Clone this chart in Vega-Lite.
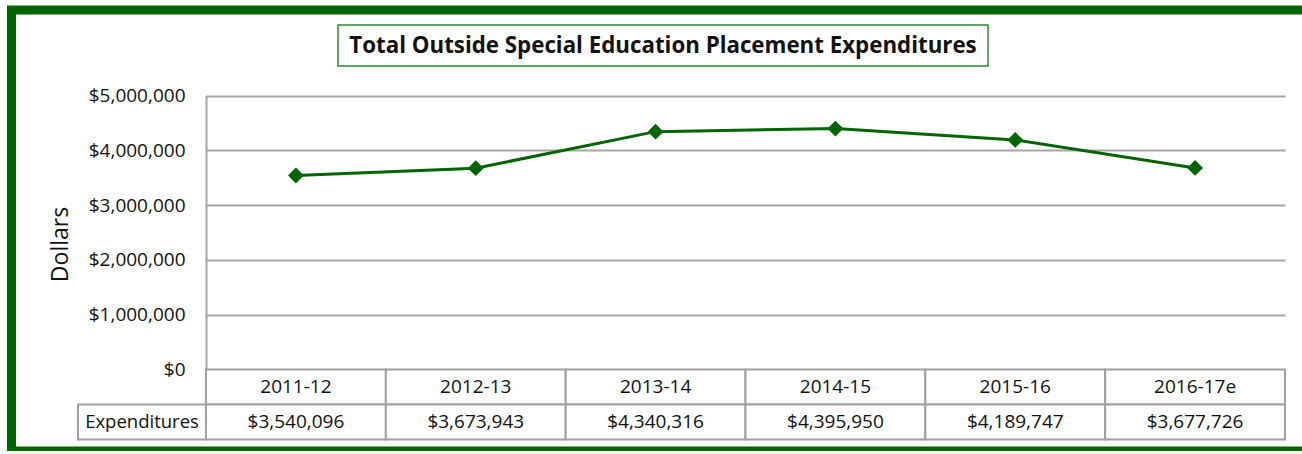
{
  "$schema": "https://vega.github.io/schema/vega-lite/v6.json",
  "width": 1300.5,
  "height": 441,
  "autosize": {"type": "none"},
  "padding": {"left": 11.5, "top": 10, "right": 0, "bottom": 0},
  "background": "white",
  "config": {
    "view": {"stroke": "#006400", "strokeWidth": 9, "fill": "white"},
    "font": "Open Sans",
    "text": {"font": "Open Sans", "fontSize": 19, "color": "#111111"}
  },
  "datasets": {
    "exp": [
      {"year": "2011-12", "amount": 3540096},
      {"year": "2012-13", "amount": 3673943},
      {"year": "2013-14", "amount": 4340316},
      {"year": "2014-15", "amount": 4395950},
      {"year": "2015-16", "amount": 4189747},
      {"year": "2016-17e", "amount": 3677726}
    ]
  },
  "layer": [
    {
      "data": {"name": "exp"},
      "encoding": {
        "x": {"field": "year", "type": "nominal", "sort": null, "axis": null,
              "scale": {"type": "band", "range": [194.5, 1273.5], "paddingInner": 0, "paddingOuter": 0}},
        "y": {"field": "amount", "type": "quantitative",
              "scale": {"domain": [0, 5000000], "range": [359.5, 85.5], "nice": false, "zero": true},
              "axis": {"orient": "left", "offset": -194.5, "values": [0, 1000000, 2000000, 3000000, 4000000, 5000000],
                       "format": "$,.0f", "ticks": false, "labelPadding": 21, "labelFont": "Open Sans", "labelFontSize": 19,
                       "labelColor": "#111111", "domain": true, "domainColor": "#a6a6a6", "domainWidth": 2,
                       "grid": true, "gridColor": "#a6a6a6", "gridWidth": 2,
                       "title": "Dollars", "titleFont": "Open Sans", "titleFontSize": 23, "titleFontWeight": "normal",
                       "titleColor": "#111111", "titleX": -146, "titleY": 234, "titleAngle": 270,
                       "titleAlign": "center", "titleBaseline": "middle"}}
      },
      "layer": [
        {"mark": {"type": "line", "color": "#006400", "strokeWidth": 3}},
        {"mark": {"type": "point", "shape": "diamond", "filled": true, "color": "#006400", "size": 250, "opacity": 1}}
      ]
    },
    {
      "layer": [
        {
          "data": {"name": "exp"},
          "encoding": {
            "x": {"field": "year", "type": "nominal", "sort": null, "axis": null,
                  "scale": {"type": "band", "range": [194.5, 1273.5], "paddingInner": 0, "paddingOuter": 0}}
          },
          "layer": [
            {"mark": {"type": "rect", "fill": "white", "stroke": "#a0a0a0", "strokeWidth": 2},
             "encoding": {"y": {"datum": "hdr", "type": "nominal", "axis": null,
                                "scale": {"type": "band", "domain": ["hdr", "val"], "range": [359.5, 429.5], "paddingInner": 0, "paddingOuter": 0}}}},
            {"mark": {"type": "text", "align": "center", "baseline": "middle"},
             "encoding": {"y": {"datum": "hdr", "type": "nominal", "axis": null,
                                "scale": {"type": "band", "domain": ["hdr", "val"], "range": [359.5, 429.5], "paddingInner": 0, "paddingOuter": 0}},
                          "text": {"field": "year", "type": "nominal"}}},
            {"mark": {"type": "rect", "fill": "white", "stroke": "#a0a0a0", "strokeWidth": 2},
             "encoding": {"y": {"datum": "val", "type": "nominal", "axis": null,
                                "scale": {"type": "band", "domain": ["hdr", "val"], "range": [359.5, 429.5], "paddingInner": 0, "paddingOuter": 0}}}},
            {"mark": {"type": "text", "align": "center", "baseline": "middle"},
             "encoding": {"y": {"datum": "val", "type": "nominal", "axis": null,
                                "scale": {"type": "band", "domain": ["hdr", "val"], "range": [359.5, 429.5], "paddingInner": 0, "paddingOuter": 0}},
                          "text": {"field": "amount", "type": "quantitative", "format": "$,.0f"}}}
          ]
        },
        {
          "data": {"values": [{"label": "Expenditures"}]},
          "encoding": {
            "x": {"field": "label", "type": "nominal", "axis": null,
                  "scale": {"type": "band", "domain": ["Expenditures"], "range": [66.5, 194.5], "paddingInner": 0, "paddingOuter": 0}},
            "y": {"datum": "val", "type": "nominal", "axis": null,
                  "scale": {"type": "band", "domain": ["hdr", "val"], "range": [359.5, 429.5], "paddingInner": 0, "paddingOuter": 0}}
          },
          "layer": [
            {"mark": {"type": "rect", "fill": "white", "stroke": "#a0a0a0", "strokeWidth": 2}},
            {"mark": {"type": "text", "align": "center", "baseline": "middle", "fontSize": 18.5},
             "encoding": {"text": {"field": "label", "type": "nominal"}}}
          ]
        }
      ],
      "resolve": {"scale": {"x": "independent"}}
    },
    {
      "data": {"values": [{"title": "Total Outside Special Education Placement Expenditures"}]},
      "encoding": {
        "x": {"field": "title", "type": "nominal", "axis": null,
              "scale": {"type": "band", "range": [326.5, 976.5], "paddingInner": 0, "paddingOuter": 0}},
        "y": {"field": "title", "type": "nominal", "axis": null,
              "scale": {"type": "band", "range": [15, 56], "paddingInner": 0, "paddingOuter": 0}}
      },
      "layer": [
        {"mark": {"type": "rect", "fill": "white", "stroke": "#2e8b2e", "strokeWidth": 1.5}},
        {"mark": {"type": "text", "align": "center", "baseline": "middle", "fontWeight": "bold", "fontSize": 22.3},
         "encoding": {"text": {"field": "title", "type": "nominal"}}}
      ]
    }
  ],
  "resolve": {"scale": {"x": "independent", "y": "independent"}}
}
